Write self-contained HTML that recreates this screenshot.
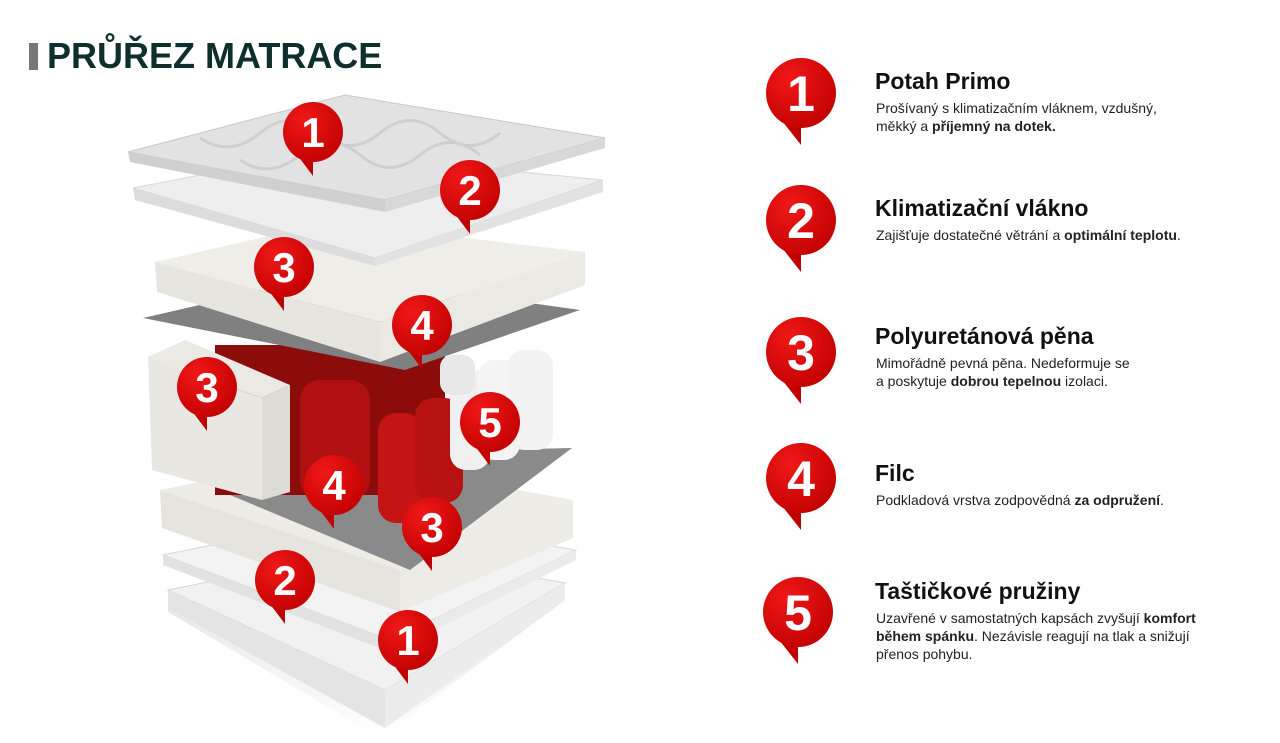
<!DOCTYPE html>
<html><head><meta charset="utf-8"><style>
html,body{margin:0;padding:0;background:#fff;}
body{width:1280px;height:743px;position:relative;overflow:hidden;font-family:"Liberation Sans",sans-serif;}
.t{position:absolute;left:47px;top:35px;font-size:36px;font-weight:bold;color:#0e2f2b;letter-spacing:0px;}
.bar{position:absolute;left:29px;top:43px;width:9px;height:27px;background:#777;}
.h{position:absolute;left:875px;font-size:23px;font-weight:bold;color:#111;}
.p{position:absolute;left:876px;font-size:14px;line-height:18px;color:#222;}
svg{position:absolute;left:0;top:0;}
</style></head><body>
<svg width="1280" height="743" viewBox="0 0 1280 743">
<defs>
<radialGradient id="rg" cx="0.35" cy="0.3" r="0.8"><stop offset="0" stop-color="#f01818"/><stop offset="1" stop-color="#c00000"/></radialGradient>
<g id="pin"><path d="M-22,24 L0,52 L0,30 Z" fill="#c00000"/><circle r="35" fill="url(#rg)"/></g>
<g id="pin2"><path d="M-18,20 L0,44 L0,26 Z" fill="#c00000"/><circle r="30" fill="url(#rg)"/></g>
<linearGradient id="sh" x1="0" y1="0" x2="0" y2="1"><stop offset="0" stop-color="#ddd"/><stop offset="1" stop-color="#fff"/></linearGradient>
</defs>
<polygon points="168,592 375,548 565,585 565,600 380,738 168,612" fill="url(#sh)"/>
<polygon points="168,590 375,548 565,583 385,690" fill="#f1f1f1" stroke="#d6d6d6"/>
<polygon points="168,590 385,690 385,728 168,608" fill="#e4e4e4"/>
<polygon points="385,690 565,583 565,600 385,728" fill="#ececec"/>
<polygon points="163,555 360,515 576,550 390,640" fill="#f3f3f3" stroke="#d8d8d8"/>
<polygon points="163,555 390,640 390,652 163,565" fill="#e2e2e2"/>
<polygon points="390,640 576,550 576,560 390,652" fill="#eaeaea"/>
<polygon points="160,490 330,455 573,500 400,570" fill="#eeece7"/>
<polygon points="160,490 400,570 400,612 162,528" fill="#e6e4de"/>
<polygon points="400,570 573,500 573,538 400,612" fill="#ecebe6"/>
<polygon points="230,495 400,452 572,448 410,570" fill="#8a8a8a"/>
<g>
<rect x="215" y="345" width="230" height="150" fill="#8c0c0c"/>
<rect x="300" y="380" width="70" height="120" rx="20" fill="#b01010"/>
<rect x="378" y="413" width="45" height="110" rx="18" fill="#c41414"/>
<rect x="415" y="398" width="48" height="105" rx="18" fill="#b81212"/>
<rect x="450" y="370" width="40" height="100" rx="16" fill="#f0f0f0"/>
<rect x="478" y="360" width="42" height="100" rx="16" fill="#f4f4f4"/>
<rect x="508" y="350" width="45" height="100" rx="16" fill="#f2f2f2"/>
<rect x="440" y="355" width="35" height="40" rx="12" fill="#e8e8e8"/>
</g>
<polygon points="148,357 185,340 290,385 262,398" fill="#ebe9e4"/>
<polygon points="148,357 262,398 262,500 152,470" fill="#e9e7e2"/>
<polygon points="262,398 290,385 290,492 262,500" fill="#dddbd5"/>
<polygon points="143,318 330,275 580,310 405,370" fill="#808080"/>
<polygon points="155,262 330,222 585,252 380,322" fill="#efede8"/>
<polygon points="155,262 380,322 380,362 157,292" fill="#e7e5df"/>
<polygon points="380,322 585,252 585,285 380,362" fill="#ebe9e4"/>
<polygon points="133,188 320,152 603,180 375,258" fill="#eeeeee" stroke="#d8d8d8"/>
<polygon points="133,188 375,258 375,266 135,200" fill="#dcdcdc"/>
<polygon points="375,258 603,180 603,192 375,266" fill="#e2e2e2"/>
<polygon points="128,152 345,95 605,138 385,200" fill="#e2e2e2" stroke="#c8c8c8"/>
<path d="M200,138 q30,20 60,-5 q30,-25 60,0 q30,25 60,0 q30,-25 60,0 q30,25 60,0" fill="none" stroke="#cfcfcf" stroke-width="3"/>
<path d="M240,160 q30,20 60,-5 q30,-25 60,0 q30,25 60,0 q30,-25 60,0" fill="none" stroke="#cfcfcf" stroke-width="3"/>
<polygon points="128,152 385,200 385,212 130,162" fill="#d0d0d0"/>
<polygon points="385,200 605,138 605,148 385,212" fill="#d8d8d8"/>
<g font-family="Liberation Sans,sans-serif" font-weight="bold" font-size="42" fill="#fff" text-anchor="middle">
<g transform="translate(313,132)"><use href="#pin2"/><text y="15">1</text></g>
<g transform="translate(470,190)"><use href="#pin2"/><text y="15">2</text></g>
<g transform="translate(284,267)"><use href="#pin2"/><text y="15">3</text></g>
<g transform="translate(422,325)"><use href="#pin2"/><text y="15">4</text></g>
<g transform="translate(207,387)"><use href="#pin2"/><text y="15">3</text></g>
<g transform="translate(490,422)"><use href="#pin2"/><text y="15">5</text></g>
<g transform="translate(334,485)"><use href="#pin2"/><text y="15">4</text></g>
<g transform="translate(432,527)"><use href="#pin2"/><text y="15">3</text></g>
<g transform="translate(285,580)"><use href="#pin2"/><text y="15">2</text></g>
<g transform="translate(408,640)"><use href="#pin2"/><text y="15">1</text></g>
</g>
<g font-family="Liberation Sans,sans-serif" font-weight="bold" font-size="50" fill="#fff" text-anchor="middle">
<g transform="translate(801,93)"><use href="#pin"/><text y="18">1</text></g>
<g transform="translate(801,220)"><use href="#pin"/><text y="18">2</text></g>
<g transform="translate(801,352)"><use href="#pin"/><text y="18">3</text></g>
<g transform="translate(801,478)"><use href="#pin"/><text y="18">4</text></g>
<g transform="translate(798,612)"><use href="#pin"/><text y="18">5</text></g>
</g>
</svg>
<div class="bar"></div>
<div class="t">PRŮŘEZ MATRACE</div>
<div class="h" style="top:68px">Potah Primo</div>
<div class="p" style="top:99px">Prošívaný s klimatizačním vláknem, vzdušný,<br>měkký a <b>příjemný na dotek.</b></div>
<div class="h" style="top:195px">Klimatizační vlákno</div>
<div class="p" style="top:226px">Zajišťuje dostatečné větrání a <b>optimální teplotu</b>.</div>
<div class="h" style="top:323px">Polyuretánová pěna</div>
<div class="p" style="top:354px">Mimořádně pevná pěna. Nedeformuje se<br>a poskytuje <b>dobrou tepelnou</b> izolaci.</div>
<div class="h" style="top:460px">Filc</div>
<div class="p" style="top:491px">Podkladová vrstva zodpovědná <b>za odpružení</b>.</div>
<div class="h" style="top:578px">Taštičkové pružiny</div>
<div class="p" style="top:609px">Uzavřené v samostatných kapsách zvyšují <b>komfort<br>během spánku</b>. Nezávisle reagují na tlak a snižují<br>přenos pohybu.</div>
</body></html>
